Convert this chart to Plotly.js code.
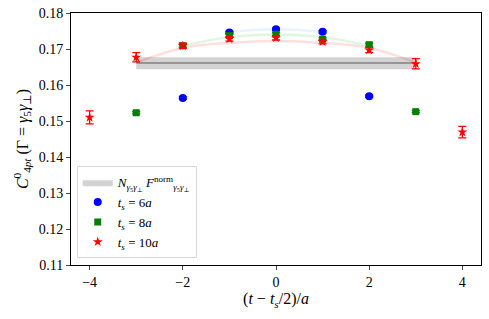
<!DOCTYPE html>
<html><head><meta charset="utf-8">
<script src="https://cdn.plot.ly/plotly-3.0.1.min.js"></script>
<style>html,body{margin:0;padding:0;background:#fff}#plot{width:489px;height:319px}</style>
</head><body><div id="plot"></div>
<script>
// Data
const x6 = [-2, -1, 0, 1, 2];
const y6 = [0.1564, 0.1746, 0.1755, 0.1748, 0.1569];
const e6 = [0.0003, 0.0003, 0.0003, 0.0003, 0.0003];

const x8 = [-3, -2, -1, 0, 1, 2, 3];
const y8 = [0.1523, 0.1709, 0.1737, 0.1741, 0.1727, 0.1712, 0.1526];
const e8 = [0.0003, 0.0004, 0.0004, 0.0004, 0.0004, 0.0004, 0.0003];

const x10 = [-4, -3, -2, -1, 0, 1, 2, 3, 4];
const y10 = [0.1510, 0.1677, 0.1709, 0.1728, 0.1731, 0.1720, 0.1697, 0.1659, 0.1469];
const e10 = [0.0018, 0.0013, 0.0007, 0.0006, 0.0006, 0.0006, 0.0007, 0.0014, 0.0016];

// Fit curves (read at sample points)
const fit6x = [-1, -0.5, 0, 0.5, 1];
const fit6y = [0.1748, 0.1753, 0.1755, 0.1753, 0.1748];
const fit8x = [-2, -1, 0, 1, 2];
const fit8y = [0.1709, 0.1733, 0.1740, 0.1733, 0.1709];
const fit10x = [-3, -2, -1, 0, 1, 2, 3];
const fit10y = [0.1663, 0.1703, 0.1717, 0.1722, 0.1717, 0.1703, 0.1663];

// Band N F^norm
const bandX = [-3, 3];
const bandCenter = 0.1661;
const bandLo = 0.1644;
const bandHi = 0.1677;

const traces = [
  {x: [bandX[0], bandX[1], bandX[1], bandX[0], bandX[0]],
   y: [bandLo, bandLo, bandHi, bandHi, bandLo],
   mode: 'lines', fill: 'toself', fillcolor: 'rgba(200,200,200,0.8)',
   line: {width: 0, color: 'rgba(200,200,200,0.8)'},
   name: '<i>N</i><sub><i>γ</i><sub>5</sub><i>γ</i><sub>⊥</sub></sub> <i>F</i><sup>norm</sup><sub><i>γ</i><sub>5</sub><i>γ</i><sub>⊥</sub></sub>',
   hoverinfo: 'skip'},
  {x: bandX, y: [bandCenter, bandCenter], mode: 'lines',
   line: {color: '#808080', width: 1.5}, showlegend: false, hoverinfo: 'skip'},
  {x: fit6x, y: fit6y, mode: 'lines', line: {shape: 'spline', color: 'rgba(0,120,255,0.09)', width: 2.5}, showlegend: false},
  {x: fit8x, y: fit8y, mode: 'lines', line: {shape: 'spline', color: 'rgba(0,180,0,0.12)', width: 2.5}, showlegend: false},
  {x: fit10x, y: fit10y, mode: 'lines', line: {shape: 'spline', color: 'rgba(255,0,0,0.13)', width: 2.5}, showlegend: false},
  {x: x6, y: y6, mode: 'markers', name: '<i>t<sub>s</sub></i> = 6<i>a</i>',
   marker: {symbol: 'circle', color: 'blue', size: 8},
   error_y: {type: 'data', array: e6, color: 'blue', thickness: 1.3, width: 4}},
  {x: x8, y: y8, mode: 'markers', name: '<i>t<sub>s</sub></i> = 8<i>a</i>',
   marker: {symbol: 'square', color: 'green', size: 7},
   error_y: {type: 'data', array: e8, color: 'green', thickness: 1.3, width: 4}},
  {x: x10, y: y10, mode: 'markers', name: '<i>t<sub>s</sub></i> = 10<i>a</i>',
   marker: {symbol: 'star', color: 'red', size: 7.5},
   error_y: {type: 'data', array: e10, color: 'red', thickness: 1.3, width: 4}}
];

const layout = {
  width: 489, height: 319,
  margin: {l: 71, r: 8, t: 13, b: 54},
  paper_bgcolor: '#fff', plot_bgcolor: '#fff',
  font: {family: '"Liberation Serif", "DejaVu Serif", serif', size: 13, color: '#000'},
  showlegend: true,
  legend: {x: 0.014, y: 0.027, xanchor: 'left', yanchor: 'bottom',
           bgcolor: 'rgba(255,255,255,0.9)', bordercolor: '#d8d8d8', borderwidth: 1,
           font: {size: 13}, tracegroupgap: 0, itemwidth: 30},
  xaxis: {range: [-4.4, 4.4], tickvals: [-4, -2, 0, 2, 4], ticks: 'outside', ticklen: 4,
          showgrid: false, zeroline: false, showline: true, mirror: true, linecolor: '#000', linewidth: 1,
          tickfont: {size: 14},
          title: {text: '(<i>t</i> − <i>t<sub>s</sub></i>/2)/<i>a</i>', font: {size: 16}, standoff: 4}},
  yaxis: {range: [0.11, 0.18], dtick: 0.01, tick0: 0.11, tickformat: '.2f', ticks: 'outside', ticklen: 4,
          showgrid: false, zeroline: false, showline: true, mirror: true, linecolor: '#000', linewidth: 1,
          tickfont: {size: 14},
          title: {text: '<i>C</i><sup>0</sup><sub>4<i>pt</i></sub> (Γ = <i>γ</i><sub>5</sub><i>γ</i><sub>⊥</sub>)', font: {size: 16}, standoff: 6}}
};

Plotly.newPlot('plot', traces, layout, {staticPlot: true, displayModeBar: false});
</script>
</body></html>
